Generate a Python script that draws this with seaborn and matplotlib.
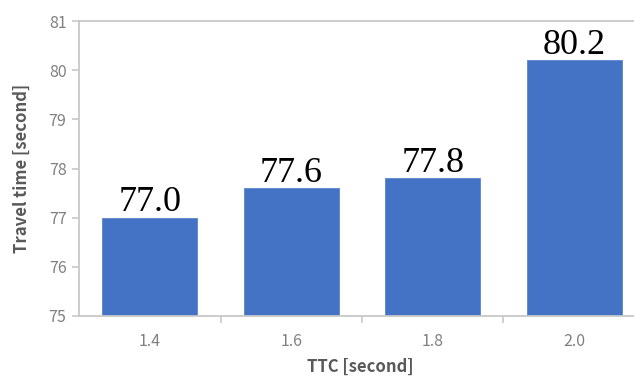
import matplotlib
matplotlib.use("Agg")
import matplotlib.pyplot as plt
import seaborn as sns
import pandas as pd

ttc_labels = ["1.4", "1.6", "1.8", "2.0"]
travel_time = [77.0, 77.6, 77.8, 80.2]
y_ticks = [75, 76, 77, 78, 79, 80, 81]

sns.set_theme(style="white")
plt.rcParams["font.family"] = ["Noto Sans CJK JP", "DejaVu Sans"]

df = pd.DataFrame({"TTC": ttc_labels, "time": travel_time})

fig = plt.figure(figsize=(6.34, 3.78), dpi=100)
ax = fig.add_axes([79 / 634, (378 - 316) / 378, 566 / 634, 295 / 378])

sns.barplot(data=df, x="TTC", y="time", color="#4472C4", width=0.67,
            saturation=1, edgecolor="#5b84cc", linewidth=0.6, ax=ax)

ax.set_xlim(-0.5, 3.5)
ax.set_ylim(75, 81)
ax.set_yticks(y_ticks)
ax.set_yticklabels([str(v) for v in y_ticks])

grey_line = "#c8c8c8"
for side in ["left", "bottom", "top", "right"]:
    ax.spines[side].set_color(grey_line)
    ax.spines[side].set_linewidth(1.3)

ax.tick_params(axis="y", which="major", length=5, width=1.2, color=grey_line,
               labelsize=11.5, labelcolor="#808080", pad=4, left=True)
ax.tick_params(axis="x", which="major", length=0, labelsize=11.5,
               labelcolor="#808080", pad=12)
ax.set_xticks([0.5, 1.5, 2.5], minor=True)
ax.tick_params(axis="x", which="minor", length=5, width=1.2, color=grey_line,
               bottom=True)

for i, v in enumerate(travel_time):
    ax.text(i, v - 0.03, f"{v:.1f}", ha="center", va="bottom",
            fontsize=26, family="Liberation Serif", color="black")

ax.set_ylabel("Travel time [second]", fontsize=12, fontweight="bold",
              color="#595959")
ax.yaxis.set_label_coords(-(79 - 31) / 566, 0.5, transform=ax.transAxes)
ax.set_xlabel("TTC [second]", fontsize=12, fontweight="bold",
              color="#595959", va="center")
ax.xaxis.set_label_coords((360 - 79) / 566, -(367 - 316) / 295, transform=ax.transAxes)

fig.savefig("out.png", dpi=100)
